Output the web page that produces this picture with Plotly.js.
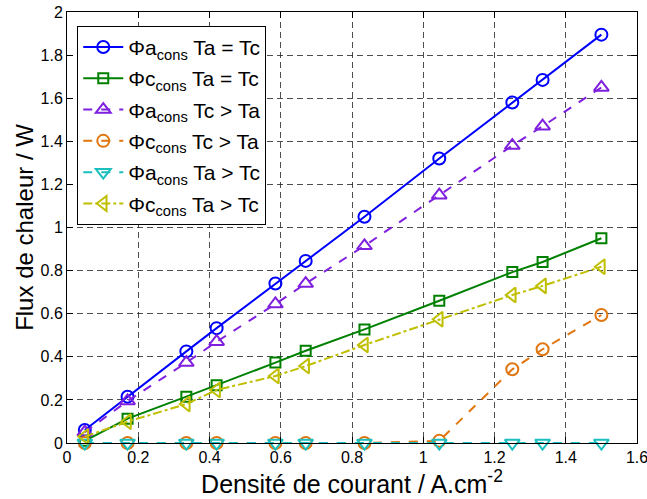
<!DOCTYPE html>
<html><head><meta charset="utf-8">
<script src="https://cdn.plot.ly/plotly-3.0.1.min.js"></script>
<style>html,body{margin:0;padding:0;background:#fff}#c{width:647px;height:499px}</style>
</head><body><div id="c"></div>
<script>
const density = [0.05, 0.17, 0.335, 0.42, 0.585, 0.67, 0.835, 1.045, 1.25, 1.335, 1.5];
const phiA_eq = [0.06, 0.215, 0.425, 0.533, 0.74, 0.845, 1.05, 1.32, 1.58, 1.685, 1.895];
const phiC_eq = [0.01, 0.113, 0.215, 0.268, 0.373, 0.428, 0.527, 0.66, 0.793, 0.84, 0.95];
const phiA_TcTa = [0.05, 0.195, 0.373, 0.47, 0.645, 0.74, 0.915, 1.15, 1.38, 1.47, 1.65];
const phiC_TcTa = [0, 0, 0, 0, 0, 0, 0, 0.01, 0.342, 0.435, 0.594];
const phiA_TaTc = [0, 0, 0, 0, 0, 0, 0, 0, 0, 0, 0];
const phiC_TaTc = [0.03, 0.099, 0.181, 0.246, 0.311, 0.357, 0.455, 0.574, 0.687, 0.729, 0.818];
const names = [
  "Φa<sub>cons</sub> Ta = Tc",
  "Φc<sub>cons</sub> Ta = Tc",
  "Φa<sub>cons</sub> Tc &gt; Ta",
  "Φc<sub>cons</sub> Tc &gt; Ta",
  "Φa<sub>cons</sub> Ta &gt; Tc",
  "Φc<sub>cons</sub> Ta &gt; Tc"
];
const xTicks = [0, 0.2, 0.4, 0.6, 0.8, 1, 1.2, 1.4, 1.6];
const xTickText = ["0", "0.2", "0.4", "0.6", "0.8", "1", "1.2", "1.4", "1.6"];
const yTicks = [0, 0.2, 0.4, 0.6, 0.8, 1, 1.2, 1.4, 1.6, 1.8, 2];
const yTickText = ["0", "0.2", "0.4", "0.6", "0.8", "1", "1.2", "1.4", "1.6", "1.8", "2"];

const series = [phiA_eq, phiC_eq, phiA_TcTa, phiC_TcTa, phiA_TaTc, phiC_TaTc];
const colors = ["#0000ff", "#008000", "#7f1fdf", "#e0760f", "#1abfbf", "#bfbf00"];
const dashes = ["solid", "solid", "dash", "dash", "dash", "dashdot"];
const symbols = ["circle-open", "square-open", "triangle-up-open", "circle-open", "triangle-down-open", "triangle-left-open"];
const sizes = [12, 10, 13, 12, 13, 13];

const traces = series.map((y, i) => ({
  x: density, y: y, name: names[i], type: "scatter", mode: "lines+markers",
  legendgroup: "g" + i,
  line: {color: colors[i], width: 2, dash: dashes[i]},
  marker: {symbol: symbols[i], size: sizes[i], color: colors[i], line: {color: colors[i], width: 2}},
  cliponaxis: false
}));

const font = {family: "Liberation Sans, Arial, sans-serif", color: "#000"};
const layout = {
  width: 647, height: 499,
  margin: {l: 67, r: 10, t: 12, b: 56},
  paper_bgcolor: "#fff", plot_bgcolor: "#fff",
  font: Object.assign({size: 16}, font),
  showlegend: true,
  legend: {
    x: 0.018, y: 0.968, xanchor: "left", yanchor: "top",
    bordercolor: "#000", borderwidth: 1, bgcolor: "#fff",
    font: Object.assign({size: 21}, font),
    itemwidth: 40, tracegroupgap: 1, traceorder: "grouped"
  },
  xaxis: {
    range: [0, 1.6], tickvals: xTicks, ticktext: xTickText,
    ticks: "inside", ticklen: 6, tickcolor: "#000", ticklabeloverflow: "allow",
    showline: true, linecolor: "#000", linewidth: 1, mirror: "ticks",
    showgrid: true, gridcolor: "#222", gridwidth: 0.8, griddash: "6px,4px",
    zeroline: false, tickfont: Object.assign({size: 16}, font),
    title: {text: "Densité de courant / A.cm<sup>-2</sup>", font: Object.assign({size: 25}, font), standoff: 6}
  },
  yaxis: {
    range: [0, 2], tickvals: yTicks, ticktext: yTickText,
    ticks: "inside", ticklen: 6, tickcolor: "#000", ticklabeloverflow: "allow",
    showline: true, linecolor: "#000", linewidth: 1, mirror: "ticks",
    showgrid: true, gridcolor: "#222", gridwidth: 0.8, griddash: "6px,4px",
    zeroline: false, tickfont: Object.assign({size: 16}, font),
    title: {text: "Flux de chaleur / W", font: Object.assign({size: 24}, font), standoff: 0}
  }
};
Plotly.newPlot("c", traces, layout, {staticPlot: true});
</script>
</body></html>
